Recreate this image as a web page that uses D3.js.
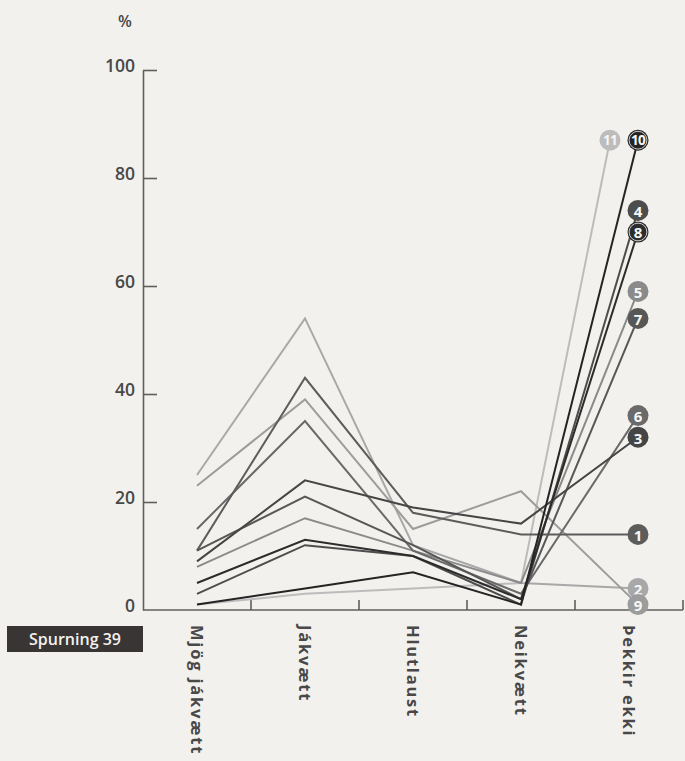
<!DOCTYPE html>
<html>
<head>
<meta charset="utf-8">
<script src="https://cdn.jsdelivr.net/npm/d3@7/dist/d3.min.js"></script>
<style>
  html, body { margin: 0; padding: 0; background: #f2f1ed; }
  svg { display: block; }
  text { font-family: "Open Sans", "Noto Sans", sans-serif; }
</style>
</head>
<body>
<svg id="chart" width="685" height="761"></svg>
<script>
// ---- data ----
const categories = ["Mjög jákvætt", "Jákvætt", "Hlutlaust", "Neikvætt", "Þekkir ekki"];
const seriesLabels = ["1", "2", "3", "4", "5", "6", "7", "8", "9", "10", "11"];
const s1  = [11, 43, 18, 14, 14];
const s2  = [25, 54, 12, 5, 4];
const s3  = [9, 24, 19, 16, 32];
const s4  = [3, 12, 10, 1, 74];
const s5  = [8, 17, 11, 5, 59];
const s6  = [15, 35, 11, 3, 36];
const s7  = [11, 21, 12, 2, 54];
const s8  = [5, 13, 10, 2, 70];
const s9  = [23, 39, 15, 22, 1];
const s10 = [1, 4, 7, 1, 87];
const s11 = [1, 3, 4, 5, 87];
const yTicks = [0, 20, 40, 60, 80, 100];
const yUnit = "%";
const questionLabel = "Spurning 39";

// ---- styles (kept separate from data) ----
const seriesColors = ["#5c5c5c", "#a8a8a8", "#454545", "#4d4d4d", "#8a8a8a", "#6a6a6a",
                      "#575757", "#2c2c2c", "#9c9c9c", "#242424", "#bcbcbc"];
const ringed = ["8", "10"];

const series = [s1, s2, s3, s4, s5, s6, s7, s8, s9, s10, s11].map((v, i) => ({
  label: seriesLabels[i], values: v, color: seriesColors[i]
}));

const svg = d3.select("#chart");
const axisColor = "#5f5f5f";
const textColor = "#484848";

const x = d3.scaleBand().domain(categories).range([143, 683]);
const y = d3.scaleLinear().domain([0, 100]).range([610, 70]);
const cx = c => x(c) + x.bandwidth() / 2;
const endDx = 9;   // end markers sit slightly right of the last category centre
const r = 10.5;

// ---- y axis ----
const yAxis = d3.axisLeft(y).tickValues(yTicks).tickSizeInner(-14).tickSizeOuter(0).tickPadding(8);
const gy = svg.append("g").attr("transform", "translate(143,0)").call(yAxis);
gy.select(".domain").attr("stroke", axisColor).attr("stroke-width", 1.6);
gy.selectAll(".tick line").attr("stroke", axisColor).attr("stroke-width", 1.6);
gy.selectAll(".tick text")
  .attr("fill", textColor).attr("font-size", 17.5).attr("font-weight", 600)
  .attr("font-family", "'Open Sans', sans-serif")
  .attr("dy", "0.1em");
gy.selectAll(".tick").filter(d => d === 0).select("line").remove();

svg.append("text").attr("x", 125).attr("y", 27).attr("text-anchor", "middle")
  .attr("fill", textColor).attr("font-size", 16).attr("font-weight", 600).text(yUnit);

// ---- x axis ----
const gx = svg.append("g");
gx.append("line").attr("x1", 143).attr("x2", 683).attr("y1", y(0)).attr("y2", y(0))
  .attr("stroke", axisColor).attr("stroke-width", 1.6);
gx.selectAll("line.tk").data(categories).join("line").attr("class", "tk")
  .attr("x1", d => x(d) + x.bandwidth()).attr("x2", d => x(d) + x.bandwidth())
  .attr("y1", y(0)).attr("y2", y(0) - 10)
  .attr("stroke", axisColor).attr("stroke-width", 1.6);
gx.selectAll("text.cat").data(categories).join("text").attr("class", "cat")
  .attr("transform", d => `translate(${cx(d)},625) rotate(90)`)
  .attr("text-anchor", "start").attr("dominant-baseline", "central")
  .attr("fill", textColor).attr("font-size", 16.5).attr("font-weight", 700)
  .attr("letter-spacing", 1.8)
  .text(d => d);

// ---- question box ----
const qb = svg.append("g");
qb.append("rect").attr("x", 7).attr("y", 626).attr("width", 136).attr("height", 26)
  .attr("fill", "#3a3535");
qb.append("text").attr("x", 75).attr("y", 639).attr("text-anchor", "middle")
  .attr("dominant-baseline", "central").attr("fill", "#f4f2ee")
  .attr("font-size", 16).attr("font-weight", 600).text(questionLabel);

// ---- end-marker positions (resolve exact overlaps by shifting later labels left) ----
const last = categories[categories.length - 1];
const ends = series.map(s => ({ s, ex: cx(last) + endDx, ey: y(s.values[s.values.length - 1]) }));
const placed = [];
ends.slice().sort((a, b) => +a.s.label - +b.s.label).forEach(e => {
  while (placed.some(p => Math.abs(p.ey - e.ey) < 6 && Math.abs(p.ex - e.ex) < 2 * r)) e.ex -= 2 * r + 7;
  placed.push(e);
});

// ---- lines (lightest first) ----
const lineGen = d3.line().x(d => d[0]).y(d => d[1]);
const lum = c => d3.hsl(c).l;
ends.slice().sort((a, b) => lum(b.s.color) - lum(a.s.color)).forEach(e => {
  const pts = e.s.values.map((v, i) => [i === categories.length - 1 ? e.ex : cx(categories[i]), y(v)]);
  svg.append("path").attr("d", lineGen(pts)).attr("fill", "none")
    .attr("stroke", e.s.color).attr("stroke-width", 2).attr("stroke-linejoin", "miter");
});

// ---- end markers (lower ones drawn on top) ----
const gm = svg.append("g");
ends.slice().sort((a, b) => a.ey - b.ey).forEach(e => {
  const g = gm.append("g").attr("transform", `translate(${e.ex},${e.ey})`);
  g.append("circle").attr("r", r).attr("fill", e.s.color);
  if (ringed.includes(e.s.label)) {
    g.append("circle").attr("r", r - 1.6).attr("fill", "none").attr("stroke", "#dcdcdc").attr("stroke-width", 0.9);
  }
  g.append("text").attr("text-anchor", "middle").attr("dominant-baseline", "central")
    .attr("dy", "0.02em")
    .attr("fill", "#f6f6f6").attr("font-size", e.s.label.length > 1 ? 13.5 : 15)
    .attr("font-weight", 700).attr("letter-spacing", e.s.label.length > 1 ? -0.8 : 0)
    .text(e.s.label);
});
</script>
</body>
</html>
